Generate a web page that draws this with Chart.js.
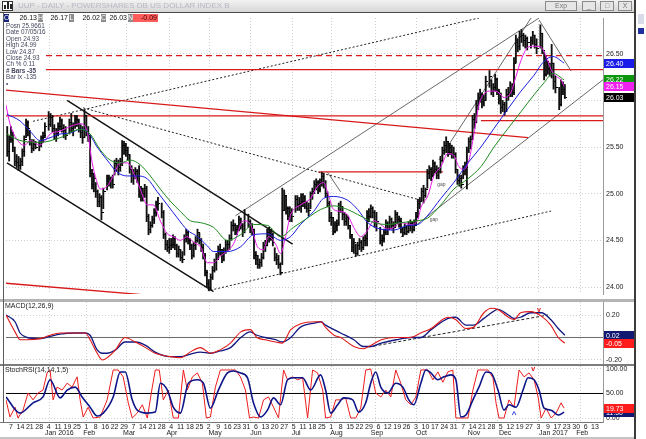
<!DOCTYPE html>
<html><head><meta charset="utf-8">
<script src="https://cdn.jsdelivr.net/npm/chart.js@4.4.1/dist/chart.umd.min.js"></script>
<style>
*{box-sizing:border-box}
html,body{margin:0;padding:0;background:#fff;overflow:hidden}
#wrap{position:relative;width:646px;height:439px;background:#fff;font-family:"Liberation Sans",Arial,sans-serif;overflow:hidden}
canvas{position:absolute;left:0}
#title{position:absolute;left:0;top:0;width:636px;height:13px;background:linear-gradient(#f2f2f2,#d6d6d6);border-bottom:1px solid #4a4a4a}
#title .t{position:absolute;left:18px;top:1px;font-size:8px;color:#b6b8c4;white-space:nowrap}
#icon{position:absolute;left:2px;top:1px;width:11px;height:10px;background:#fff;border:1px solid #333}
#icon i{position:absolute;bottom:1px;width:2px;background:#222}
.btn{position:absolute;top:1px;height:10px;border:1px solid #8a8a8a;background:#e6e6e6;font-size:7px;text-align:center;line-height:8px;color:#777}
.hl{position:absolute;top:14px;height:8px;font-size:7px;line-height:8px;color:#fff;text-align:center;background:#8c8c8c}
.hv{position:absolute;top:14px;height:8px;font-size:7px;line-height:8px;color:#111;text-align:right;background:#fff;padding-right:1px}
#info{position:absolute;left:4px;top:22px;width:42px;height:67px;background:#fff;font-size:6.3px;line-height:6.4px;color:#44465e;padding:1px 0 0 2px;white-space:nowrap}
.sep{position:absolute;left:0;width:636px}
#rside{position:absolute;left:634px;top:0;width:12px;height:439px;background:#fff;border-left:2px solid #3c3c3c}
#rside div{position:absolute;left:2px;width:6px}
</style></head><body>
<div id="wrap">
 <canvas id="cp" width="636" height="286" style="top:13px;width:636px;height:286px"></canvas>
 <canvas id="cm" width="636" height="62" style="top:302px;width:636px;height:62px"></canvas>
 <canvas id="cs" width="636" height="73" style="top:366px;width:636px;height:73px"></canvas>
 <div class="sep" style="top:299px;height:3px;background:#b4b4b4"></div>
 <div class="sep" style="top:364px;height:2px;background:#7c7c7c"></div>
 <div class="sep" style="top:422px;height:1px;background:#777;width:603px"></div>
 <div class="sep" style="top:437px;height:2px;background:#c4c4c4"></div>
 <div style="position:absolute;left:3px;top:13px;width:1px;height:409px;background:#5a5a5a"></div>
 <div id="title">
  <div id="icon"><i style="left:1px;height:4px"></i><i style="left:4px;height:7px"></i><i style="left:7px;height:5px"></i></div>
  <span class="t">UUP - DAILY - POWERSHARES DB US DOLLAR INDEX B</span>
  <div class="btn" style="left:545px;width:32px">Exp</div>
  <div class="btn" style="left:582px;width:14px">_</div>
  <div class="btn" style="left:600px;width:14px">&#9633;</div>
  <div class="btn" style="left:618px;width:14px">X</div>
 </div>
 <div class="hl" style="left:4px;width:5px;background:#14237a">O</div>
 <div class="hv" style="left:9px;width:29px">26.13</div>
 <div class="hl" style="left:38px;width:5px">H</div>
 <div class="hv" style="left:43px;width:26px">26.17</div>
 <div class="hl" style="left:69px;width:5px">L</div>
 <div class="hv" style="left:74px;width:27px">26.02</div>
 <div class="hl" style="left:101px;width:5px">C</div>
 <div class="hv" style="left:106px;width:22px">26.03</div>
 <div class="hl" style="left:128px;width:5px">N</div>
 <div class="hv" style="left:133px;width:25px;background:#ff5c5c;color:#3a0000">-0.09</div>
 <div id="info">Posn 25.9661<br>Date 07/05/16<br>Open 24.93<br>High 24.99<br>Low 24.87<br>Close 24.93<br>Ch % 0.11<br><b># Bars -35</b><br>Bar ix -135<br>&#8226;</div>
 <div id="rside"><div style="top:14px;height:10px;background:#d8dce8"></div><div style="top:28px;height:6px;background:#2030a0"></div></div>
</div>
<script>
// ---------- x axis (weeks from Mon 7 Dec 2015) ----------
const weekLabels = ['7','14','21','28','4','11','19','25','1','8','16','22','29','7','14','21','28','4','11','18','25','2','9','16','23','31','6','13','20','27','5','11','18','25','1','8','15','22','29','6','12','19','26','3','10','17','24','31','7','14','21','28','5','12','19','27','3','9','17','23','30','6','13'];
const monthNames = ['Jan 2016','Feb','Mar','Apr','May','Jun','Jul','Aug','Sep','Oct','Nov','Dec','Jan 2017','Feb'];
const monthLabelPos = [3.6,7.66,11.9,16.5,20.96,25.4,29.8,33.9,38.2,43.0,48.5,51.8,56.06,60.0];
const monthGridPos = [4.0,8.0,12.2,16.8,21.0,25.4,29.8,34.0,38.6,43.0,47.2,51.6,56.0,60.4];
const holidays = ['2015-12-25','2016-01-01','2016-01-18','2016-02-15','2016-03-25','2016-05-30','2016-07-04','2016-09-05','2016-11-24','2016-12-26','2017-01-02','2017-01-16'];
const firstDay = '2015-12-03', lastDay = '2017-01-20';

// ---------- daily prices (one line per week) ----------
const highs = [
25.72,25.62,
25.72,25.66,25.50,25.42,25.40,
25.38,25.48,25.62,25.80,25.78,
25.68,25.58,25.58,25.56,
25.56,25.62,25.66,25.76,
25.88,25.86,25.84,25.74,25.70,
25.76,25.82,25.80,25.74,25.72,
25.80,25.86,25.76,25.84,
25.84,25.80,25.74,25.72,25.90,
25.84,25.72,25.62,25.26,25.22,
25.12,25.04,25.00,24.98,25.06,
25.20,25.20,25.18,25.20,
25.36,25.38,25.36,25.38,25.57,
25.56,25.54,25.50,25.42,25.30,
25.26,25.28,25.26,25.30,25.08,
25.06,25.10,25.08,24.78,24.70,
24.76,24.84,24.92,24.96,
24.90,24.82,24.58,24.50,24.52,
24.52,24.56,24.54,24.46,24.44,
24.40,24.38,24.56,24.62,24.60,
24.52,24.46,24.48,24.54,24.62,
24.58,24.52,24.46,24.36,24.18,
24.08,24.14,24.22,24.30,24.36,
24.44,24.46,24.40,24.42,24.50,
24.50,24.56,24.70,24.72,24.68,
24.66,24.76,24.74,24.68,24.83,
24.78,24.72,24.68,24.62,
24.38,24.34,24.30,24.36,24.48,
24.50,24.62,24.64,24.62,24.58,
24.42,24.36,24.34,24.26,25.06,
25.04,24.98,24.86,24.86,24.84,
24.98,24.98,24.96,25.00,
25.00,24.98,24.92,24.90,25.02,
25.06,25.14,25.16,25.14,25.16,
25.23,25.22,25.14,25.02,24.92,
24.80,24.74,24.70,24.72,24.90,
24.92,24.86,24.80,24.78,24.76,
24.66,24.56,24.52,24.46,24.48,
24.52,24.50,24.54,24.56,24.82,
24.84,24.88,24.86,24.82,24.80,
24.64,24.56,24.62,24.72,
24.70,24.76,24.74,24.70,24.82,
24.80,24.76,24.74,24.64,24.68,
24.66,24.70,24.72,24.70,24.72,
24.80,24.94,24.96,25.06,25.09,
25.06,25.26,25.30,25.28,25.36,
25.34,25.30,25.28,25.40,25.50,
25.56,25.61,25.56,25.54,25.52,
25.50,25.44,25.26,25.20,25.20,
25.30,25.34,25.50,25.60,25.62,
25.84,25.86,26.00,26.08,26.12,
26.08,26.06,26.26,26.32,
26.22,26.18,26.28,26.24,26.12,
26.08,26.00,25.98,26.12,26.14,
26.20,26.18,26.46,26.70,26.66,
26.74,26.76,26.72,26.70,26.68,
26.68,26.74,26.70,26.66,
26.81,26.72,26.52,26.48,
26.42,26.40,26.60,26.40,26.26,
26.14,26.22,26.20,26.17];
const lows = [
25.40,25.35,
25.55,25.45,25.30,25.28,25.25,
25.26,25.30,25.40,25.60,25.62,
25.52,25.44,25.46,25.48,
25.46,25.50,25.55,25.60,
25.68,25.72,25.66,25.58,25.56,
25.62,25.68,25.66,25.60,25.58,
25.64,25.66,25.62,25.70,
25.72,25.66,25.60,25.54,25.60,
25.62,25.56,25.18,25.05,25.02,
24.96,24.86,24.86,24.72,24.84,
25.04,25.08,25.06,25.06,
25.20,25.24,25.20,25.24,25.30,
25.42,25.40,25.36,25.22,25.12,
25.10,25.16,25.12,24.96,24.92,
24.92,24.96,24.70,24.56,24.58,
24.64,24.68,24.76,24.82,
24.74,24.52,24.40,24.38,24.36,
24.40,24.42,24.40,24.32,24.32,
24.28,24.26,24.34,24.48,24.46,
24.40,24.30,24.32,24.40,24.48,
24.46,24.38,24.30,24.12,24.00,
23.96,23.97,24.08,24.16,24.18,
24.30,24.34,24.26,24.28,24.36,
24.38,24.40,24.50,24.60,24.56,
24.56,24.60,24.62,24.54,24.58,
24.64,24.58,24.56,24.30,
24.24,24.20,24.20,24.22,24.30,
24.38,24.44,24.48,24.50,24.44,
24.28,24.24,24.20,24.13,24.24,
24.82,24.78,24.72,24.70,24.70,
24.80,24.82,24.82,24.80,
24.86,24.84,24.80,24.76,24.84,
24.94,25.00,25.04,25.00,25.02,
25.08,25.06,24.96,24.86,24.70,
24.66,24.56,24.58,24.60,24.66,
24.80,24.72,24.66,24.66,24.62,
24.52,24.38,24.36,24.33,24.34,
24.40,24.38,24.40,24.44,24.44,
24.70,24.74,24.74,24.64,24.60,
24.46,24.44,24.48,24.56,
24.56,24.62,24.62,24.58,24.64,
24.68,24.64,24.58,24.54,24.56,
24.56,24.58,24.60,24.58,24.60,
24.66,24.74,24.84,24.92,24.90,
24.96,25.06,25.16,25.14,25.18,
25.22,25.16,25.16,25.22,25.34,
25.42,25.44,25.40,25.42,25.38,
25.38,25.22,25.10,25.08,25.06,
25.16,25.20,25.05,25.44,25.48,
25.58,25.70,25.76,25.90,25.98,
25.92,25.94,26.00,26.14,
26.06,26.04,26.10,26.06,25.96,
25.86,25.88,25.84,25.88,26.00,
26.04,26.04,26.06,26.40,26.52,
26.54,26.62,26.58,26.56,26.54,
26.56,26.60,26.56,26.50,
26.56,26.50,26.22,26.26,
26.28,26.26,26.24,26.12,26.08,
25.90,25.94,26.06,26.02];
const closes = [
25.45,25.58,
25.66,25.50,25.35,25.33,25.30,
25.34,25.45,25.58,25.76,25.70,
25.55,25.48,25.53,25.50,
25.52,25.60,25.62,25.72,
25.74,25.82,25.70,25.62,25.64,
25.72,25.78,25.70,25.68,25.62,
25.76,25.70,25.74,25.80,
25.78,25.70,25.66,25.60,25.84,
25.66,25.62,25.22,25.10,25.16,
25.02,24.92,24.96,24.80,25.02,
25.16,25.12,25.14,25.10,
25.32,25.30,25.28,25.32,25.52,
25.46,25.50,25.42,25.26,25.20,
25.22,25.24,25.18,25.06,24.98,
25.00,25.06,24.76,24.62,24.66,
24.72,24.80,24.88,24.90,
24.80,24.56,24.46,24.42,24.44,
24.46,24.52,24.44,24.36,24.40,
24.32,24.30,24.52,24.58,24.50,
24.44,24.34,24.44,24.50,24.58,
24.50,24.42,24.34,24.16,24.04,
24.00,24.10,24.18,24.26,24.30,
24.40,24.40,24.30,24.38,24.46,
24.46,24.52,24.66,24.66,24.62,
24.62,24.72,24.66,24.58,24.78,
24.70,24.64,24.62,24.34,
24.30,24.24,24.26,24.32,24.44,
24.44,24.58,24.52,24.56,24.48,
24.32,24.30,24.24,24.16,24.82,
24.98,24.84,24.76,24.80,24.76,
24.94,24.88,24.90,24.92,
24.96,24.86,24.84,24.82,25.00,
25.02,25.10,25.12,25.04,25.12,
25.18,25.10,25.00,24.90,24.74,
24.74,24.60,24.66,24.68,24.86,
24.86,24.78,24.70,24.74,24.66,
24.56,24.42,24.48,24.36,24.44,
24.48,24.42,24.50,24.52,24.76,
24.76,24.84,24.80,24.68,24.70,
24.50,24.52,24.58,24.68,
24.62,24.72,24.66,24.64,24.78,
24.72,24.70,24.62,24.58,24.64,
24.60,24.66,24.68,24.62,24.66,
24.76,24.90,24.92,25.02,24.98,
25.04,25.22,25.26,25.20,25.32,
25.26,25.20,25.24,25.36,25.46,
25.52,25.56,25.44,25.50,25.42,
25.42,25.26,25.14,25.16,25.10,
25.26,25.28,25.46,25.56,25.58,
25.80,25.76,25.94,26.02,26.06,
25.98,26.00,26.20,26.26,
26.10,26.14,26.22,26.10,26.00,
25.92,25.96,25.88,26.06,26.08,
26.12,26.08,26.40,26.62,26.58,
26.68,26.70,26.64,26.66,26.62,
26.64,26.70,26.60,26.56,
26.72,26.54,26.28,26.42,
26.34,26.32,26.40,26.20,26.14,
25.96,26.16,26.12,26.03];

// ---------- moving averages ----------
const maFastW = [-0.53,-0.11,0.96,1.49,2.02,3.09,3.62,4.15,5.21,6.28,7.34,8.09,8.62,9.15,9.47,10.21,10.85,11.60,12.34,12.98,13.72,14.47,15.11,15.85,16.60,17.23,17.98,18.72,19.36,20.11,20.85,21.49,22.23,23.62,24.68,25.43,26.17,26.81,27.34,28.09,28.62,29.15,29.68,30.74,31.81,32.55,33.19,33.72,34.26,35.00,35.74,36.38,37.13,37.87,38.51,39.26,40.00,40.64,41.38,42.45,43.19,43.51,44.26,44.89,45.64,46.38,47.02,47.55,48.09,48.62,49.15,49.68,50.21,50.96,51.70,52.34,53.09,53.62,54.15,54.89,55.53,56.28,56.81,57.34,57.87,58.40,58.72];
const maFastV = [25.95,25.75,25.54,25.52,25.57,25.52,25.57,25.64,25.67,25.72,25.75,25.67,25.33,25.12,25.05,25.08,25.19,25.33,25.33,25.23,25.05,24.88,24.88,24.71,24.57,24.54,24.50,24.54,24.48,24.43,24.26,24.26,24.33,24.46,24.71,24.67,24.43,24.40,24.54,24.46,24.36,24.54,24.77,24.88,24.95,25.08,25.12,24.98,24.83,24.81,24.77,24.64,24.54,24.61,24.71,24.67,24.62,24.64,24.69,24.67,24.72,24.85,24.98,25.19,25.29,25.43,25.41,25.29,25.26,25.36,25.64,25.95,26.07,26.10,26.09,26.03,26.09,26.26,26.43,26.57,26.58,26.57,26.47,26.33,26.26,26.22,26.15];
const maMidW = [-0.43,0.96,2.02,3.09,4.15,5.21,6.28,7.34,8.09,9.15,10.21,11.28,12.34,13.40,14.47,15.53,16.60,17.66,18.72,19.79,20.85,21.49,22.98,24.36,25.74,27.23,28.62,29.68,30.74,32.13,33.19,34.26,35.74,36.81,37.87,39.26,40.64,42.13,43.19,44.26,45.64,47.02,48.51,49.89,51.28,52.77,54.15,55.53,56.60,57.55,58.72];
const maMidV = [25.85,25.78,25.67,25.57,25.60,25.64,25.65,25.69,25.67,25.50,25.36,25.23,25.19,25.19,25.16,25.02,24.88,24.74,24.61,24.54,24.44,24.38,24.38,24.43,24.56,24.57,24.50,24.54,24.67,24.81,24.95,24.97,24.93,24.83,24.69,24.62,24.61,24.66,24.67,24.77,24.95,25.12,25.33,25.50,25.70,25.91,26.10,26.27,26.42,26.47,26.40];
const maSlowW = [-0.43,0.96,3.09,5.21,7.34,8.40,9.47,10.53,11.60,12.66,13.72,14.79,15.85,16.91,17.98,19.04,20.11,21.49,22.98,24.36,25.74,27.23,28.62,30.00,31.49,32.87,34.26,35.74,37.13,38.51,40.00,41.38,43.19,44.26,45.64,47.02,48.51,49.89,51.28,52.77,54.15,55.53,56.60,57.55,58.72];
const maSlowV = [25.64,25.57,25.55,25.60,25.69,25.64,25.47,25.36,25.33,25.36,25.31,25.19,25.05,24.92,24.81,24.71,24.69,24.64,24.50,24.56,24.67,24.66,24.54,24.64,24.74,24.83,24.87,24.83,24.76,24.69,24.67,24.69,24.71,24.74,24.88,25.05,25.16,25.29,25.50,25.70,25.88,26.06,26.19,26.29,26.22];

// ---------- drawn lines on the price panel (week, price) ----------
const redDashed = [[-0.53,26.48],[62.85,26.48]];
const redSolid1 = [[-0.53,26.33],[62.85,26.33]];
const redSlope1 = [[-0.53,26.11],[54.9,25.60]];
const redSolid2 = [[-0.53,25.833],[62.85,25.833]];
const redSolid3 = [[49.9,25.783],[62.85,25.783]];
const redSolid4 = [[32.66,25.233],[45.85,25.233]];
const redSlope2 = [[-0.53,24.04],[14.26,23.915]];
const chanLow = [[-0.43,25.33],[21.5,23.95]];
const chanHigh = [[5.96,26.00],[29.9,24.46]];
const dotDown = [[7.66,25.92],[43.51,24.93]];
const dotUp = [[2.34,25.776],[49.68,26.883]];
const dotSupport = [[21.17,23.966],[57.34,24.814]];
const thinUp1 = [[23.83,24.763],[56.06,26.883]];
const thinUp2 = [[41.38,24.535],[62.98,26.231]];
const thinUp3 = [[45.43,25.362],[55.21,26.883]];
const thinDown1 = [[56.06,26.862],[59.47,26.314]];
const thinDown2 = [[33.6,25.23],[35.0,25.02]];
const gapMarks = [[45.7,25.10],[44.9,24.72]];

const priceTicks = [24.0,24.5,25.0,25.5,26.0,26.5];
const priceLast = [26.40,26.22,26.15,26.03];

// ---------- MACD ----------
const macdW = [-0.53,0.43,0.96,1.7,3.1,4.15,5.2,6.8,7.9,8.4,9.15,9.7,10.2,11.1,12.1,13.2,14.3,15.3,16.9,18.0,19.0,20.1,21.2,22.2,23.3,24.4,25.4,26.1,27.0,28.1,28.8,29.7,30.7,32.3,32.9,33.4,34.3,35.0,36.4,37.4,38.2,39.3,40.9,42.4,43.5,44.6,46.4,47.2,48.3,49.1,50.2,51.0,51.7,52.8,53.4,54.1,55.2,56.3,57.3,58.1,58.8];
const macdRed = [0.20,0.05,-0.02,-0.02,-0.01,0.02,0.04,0.04,0.04,-0.02,-0.14,-0.20,-0.18,-0.11,0.00,-0.04,-0.09,-0.14,-0.17,-0.18,-0.13,-0.09,-0.14,-0.11,-0.05,0.05,0.07,0.00,-0.02,-0.04,-0.05,0.07,0.12,0.14,0.14,0.09,0.02,0.00,-0.08,-0.10,-0.07,-0.02,0.00,0.00,0.04,0.08,0.18,0.16,0.08,0.09,0.22,0.26,0.25,0.18,0.16,0.22,0.23,0.19,0.11,0.00,-0.05];
const macdBlue = [0.20,0.14,0.04,0.00,-0.01,0.01,0.03,0.04,0.04,0.02,-0.11,-0.14,-0.14,-0.11,-0.04,-0.04,-0.07,-0.13,-0.17,-0.17,-0.15,-0.13,-0.14,-0.12,-0.09,0.00,0.05,0.02,0.00,-0.02,-0.04,0.00,0.09,0.13,0.14,0.11,0.07,0.04,-0.02,-0.08,-0.08,-0.05,-0.02,0.00,0.00,0.07,0.17,0.18,0.11,0.11,0.17,0.22,0.25,0.20,0.17,0.18,0.22,0.22,0.16,0.08,0.02];
const macdTrend = [[37.98,-0.084],[57.02,0.20]];
const macdTicks = [-0.2,0.2];
const macdLast = [0.02,-0.05];
const macdMark = [56.06,0.244];

// ---------- Stochastic RSI ----------
const stSlowW = [-0.53,0.96,2.34,3.40,4.15,5.21,5.96,6.81,7.55,8.40,9.15,9.79,10.85,11.60,12.13,12.87,13.40,14.47,15.32,15.85,16.60,17.23,17.98,18.83,19.79,20.43,21.17,22.02,22.98,23.62,24.36,25.11,25.74,26.49,27.23,27.87,28.62,29.36,30.00,30.96,31.81,32.87,33.40,33.94,34.68,35.32,36.28,36.91,37.66,38.19,38.72,39.26,40.00,40.85,41.60,42.23,42.77,43.51,44.04,44.57,45.32,45.96,46.70,47.23,47.77,48.30,49.04,49.68,50.43,50.96,51.70,52.34,52.87,53.62,54.36,54.89,55.53,56.06,56.60,57.34,58.09,58.72];
const stSlowV = [43,10,31,43,78,41,57,63,43,22,4,10,43,94,94,37,16,10,12,71,57,22,10,71,78,71,20,57,92,96,92,82,31,2,16,41,27,78,82,82,57,88,57,10,27,41,37,12,31,71,94,63,51,71,63,37,27,71,98,92,78,84,88,78,2,6,37,63,94,92,57,16,27,22,57,82,78,57,20,16,6,12];
const stFastW = [-0.53,-0.11,0.43,0.74,1.28,1.81,2.34,2.87,3.40,3.83,4.15,4.47,4.89,5.43,5.96,6.49,7.02,7.34,7.66,8.19,8.72,9.47,10.21,10.85,11.38,11.91,12.45,12.87,13.40,13.94,14.47,15.00,15.32,15.74,16.17,16.70,17.23,17.77,18.30,18.72,19.26,19.79,20.32,20.74,21.17,21.70,22.23,22.77,23.30,23.83,24.36,24.89,25.32,25.74,26.28,26.81,27.34,27.87,28.40,28.94,29.36,29.89,30.43,30.96,31.49,32.02,32.55,33.09,33.40,33.94,34.47,35.00,35.53,36.06,36.60,37.13,37.66,38.19,38.72,39.26,39.79,40.32,40.85,41.38,41.91,42.45,42.98,43.51,44.26,44.79,45.32,45.85,46.38,46.91,47.23,47.77,48.51,49.04,49.57,50.11,50.64,51.17,51.49,51.81,52.34,52.87,53.40,53.94,54.47,55.00,55.53,55.96,56.28,56.81,57.34,57.87,58.40,58.72];
const stFastV = [37,2,22,0,16,51,37,51,57,92,98,37,63,57,71,63,84,37,2,22,0,2,37,98,98,84,31,0,10,27,0,63,98,98,37,57,0,0,98,57,84,92,71,0,2,63,98,98,98,98,84,57,0,2,0,37,43,22,0,98,78,84,78,82,0,98,92,57,0,2,37,37,41,0,0,20,98,100,51,43,57,43,98,71,37,27,43,98,98,78,94,73,94,98,0,0,0,57,98,98,98,82,31,0,0,37,22,98,84,92,78,43,0,20,0,10,31,20];
const stTicks = [0,50,100];
const stLast = [11.5,19.73];
const stMarkDown = [55.43,100];
const stMarkUp = [53.40,6];

// ---------- build ----------
const XMIN = -0.53, XMAX = 62.85;
const FONT = '"Liberation Sans", Arial, sans-serif';
const hol = new Set(holidays);
const mon0 = Date.UTC(2015,11,7);
const dayX = [];
for (let t = Date.parse(firstDay+'T00:00:00Z'); t <= Date.parse(lastDay+'T00:00:00Z'); t += 864e5) {
  const d = new Date(t), wd = d.getUTCDay();
  if (wd === 0 || wd === 6) continue;
  if (hol.has(d.toISOString().slice(0,10))) continue;
  const days = Math.round((t - mon0)/864e5);
  dayX.push(Math.floor(days/7) + (((days%7)+7)%7)*0.2);
}
const N = Math.min(dayX.length, highs.length, lows.length, closes.length);
const xy = (ws, vs) => ws.map((w,i)=>({x:w, y:vs[i]}));
const seg = (p) => p.map(q=>({x:q[0], y:q[1]}));

const tickImg = document.createElement('canvas');
tickImg.width = 5; tickImg.height = 1;
(function(){const c=tickImg.getContext('2d'); c.fillStyle='#000'; c.fillRect(3,0,2,1);})();

function lineDs(data, color, width, dash, order){
  return {type:'line', data, borderColor:color, borderWidth:width, borderDash:dash||[], pointRadius:0, tension:0, fill:false, order:order??5};
}
function maDs(ws, vs, color){
  return {type:'line', data:xy(ws,vs), borderColor:color, borderWidth:1, pointRadius:0, tension:0.4, cubicInterpolationMode:'monotone', fill:false, order:0};
}
function xScale(){
  return {type:'linear', min:XMIN, max:XMAX, display:false, offset:false, grid:{display:false}};
}
function yScale(min, max, ticks){
  return {position:'right', min, max,
    afterFit(s){ s.width = 33; },
    afterBuildTicks(s){ s.ticks = ticks.map(v=>({value:v})); },
    ticks:{display:false},
    grid:{color:'#cfcfcf', lineWidth:1, drawTicks:false},
    border:{display:true, color:'#9a9a9a', dash:[1,2]}};
}
function monthGrid(chart){
  const {ctx, chartArea:a, scales:{x}} = chart;
  ctx.save(); ctx.strokeStyle='#cfcfcf'; ctx.lineWidth=1; ctx.setLineDash([1,2]);
  monthGridPos.forEach(p=>{const px=Math.round(x.getPixelForValue(p))+0.5; ctx.beginPath(); ctx.moveTo(px,a.top); ctx.lineTo(px,a.bottom); ctx.stroke();});
  ctx.restore();
}
function rightLabels(chart, vals, dec){
  const {ctx, chartArea:a, scales:{y}} = chart;
  ctx.save(); ctx.font='7px '+FONT; ctx.fillStyle='#222'; ctx.textAlign='left'; ctx.textBaseline='middle';
  vals.forEach(v=>ctx.fillText(v.toFixed(dec), a.right+3, y.getPixelForValue(v)));
  ctx.restore();
}
function boxes(chart, vals, colors){
  const {ctx, chartArea:a, scales:{y}} = chart;
  ctx.save(); ctx.font='7px '+FONT; ctx.textAlign='left'; ctx.textBaseline='middle';
  vals.forEach((v,i)=>{const py=y.getPixelForValue(v); ctx.fillStyle=colors[i]; ctx.fillRect(a.right+1, Math.round(py-4.5), 31, 9); ctx.fillStyle='#fff'; ctx.fillText(v.toFixed(2), a.right+3, py+0.5);});
  ctx.restore();
}
function markText(chart, p, txt, color, size){
  const {ctx, scales:{x,y}} = chart;
  ctx.save(); ctx.font='bold '+size+'px '+FONT; ctx.fillStyle=color; ctx.textAlign='center'; ctx.textBaseline='middle';
  ctx.fillText(txt, x.getPixelForValue(p[0]), y.getPixelForValue(p[1])); ctx.restore();
}
function panelTitle(chart, txt){
  const {ctx, chartArea:a} = chart;
  ctx.save(); ctx.font='7px '+FONT; ctx.fillStyle='#222'; ctx.textAlign='left'; ctx.textBaseline='top';
  ctx.fillText(txt, a.left-1, a.top+1); ctx.restore();
}
Chart.defaults.animation = false;
Chart.defaults.font.family = FONT;

// price chart
new Chart(document.getElementById('cp'), {
  type:'bar',
  data:{datasets:[
    {type:'bar', data:dayX.slice(0,N).map((x,i)=>({x, y:[lows[i],highs[i]]})), backgroundColor:'#111', borderWidth:0, barThickness:1.2, order:2},
    {type:'scatter', data:dayX.slice(0,N).map((x,i)=>({x, y:closes[i]})), pointStyle:tickImg, pointRadius:2, order:1},
    maDs(maSlowW, maSlowV, '#1e8a1e'),
    maDs(maMidW, maMidV, '#1c1ce0'),
    maDs(maFastW, maFastV, '#e81ce8'),
    lineDs(seg(redDashed), '#d81a1a', 1.2, [6,4]),
    lineDs(seg(redSolid1), '#d81a1a', 1.2),
    lineDs(seg(redSlope1), '#d81a1a', 1.3),
    lineDs(seg(redSolid2), '#d81a1a', 1.2),
    lineDs(seg(redSolid3), '#d81a1a', 1.2),
    lineDs(seg(redSolid4), '#d81a1a', 1.2),
    lineDs(seg(redSlope2), '#d81a1a', 1.3),
    lineDs(seg(chanLow), '#111', 1.4),
    lineDs(seg(chanHigh), '#111', 1.4),
    lineDs(seg(dotDown), '#222', 1, [2,2]),
    lineDs(seg(dotUp), '#222', 1, [2,2]),
    lineDs(seg(dotSupport), '#222', 1, [2,2]),
    lineDs(seg(thinUp1), '#444', 0.8),
    lineDs(seg(thinUp2), '#444', 0.8),
    lineDs(seg(thinUp3), '#444', 0.8),
    lineDs(seg(thinDown1), '#444', 0.8),
    lineDs(seg(thinDown2), '#444', 0.8)
  ]},
  options:{responsive:false, devicePixelRatio:1, layout:{padding:{left:6,right:0,top:0,bottom:0}},
    plugins:{legend:{display:false}, tooltip:{enabled:false}},
    scales:{x:xScale(), y:yScale(23.925, 26.883, priceTicks)}},
  plugins:[{id:'p1', beforeDatasetsDraw:monthGrid, afterDraw(c){
    rightLabels(c, priceTicks, 2);
    boxes(c, priceLast, ['#1c1ce8','#0c960c','#f020f0','#000']);
    const {ctx, scales:{x,y}} = c;
    ctx.save(); ctx.font='5px '+FONT; ctx.fillStyle='#555'; ctx.textAlign='center'; ctx.textBaseline='middle';
    gapMarks.forEach(g=>ctx.fillText('gap', x.getPixelForValue(g[0]), y.getPixelForValue(g[1])));
    ctx.restore();
  }}]
});

// MACD chart
new Chart(document.getElementById('cm'), {
  type:'line',
  data:{datasets:[
    lineDs(seg([[XMIN,0],[XMAX,0]]), '#6a6a6a', 1, [], 6),
    lineDs(seg(macdTrend), '#222', 1, [3,2], 4),
    {type:'line', data:xy(macdW, macdBlue), borderColor:'#101880', borderWidth:1.3, pointRadius:0, tension:0.4, cubicInterpolationMode:'monotone', order:1},
    {type:'line', data:xy(macdW, macdRed), borderColor:'#e01818', borderWidth:1.1, pointRadius:0, tension:0.4, cubicInterpolationMode:'monotone', order:0}
  ]},
  options:{responsive:false, devicePixelRatio:1, layout:{padding:{left:6,right:0,top:0,bottom:0}},
    plugins:{legend:{display:false}, tooltip:{enabled:false}},
    scales:{x:xScale(), y:yScale(-0.2356, 0.3156, macdTicks)}},
  plugins:[{id:'p2', beforeDatasetsDraw:monthGrid, afterDraw(c){
    rightLabels(c, macdTicks, 2);
    boxes(c, macdLast, ['#101870','#ff1c1c']);
    panelTitle(c, 'MACD(12,26,9)');
    markText(c, macdMark, 'v', '#e01818', 7);
  }}]
});

// Stochastic chart + date axis
new Chart(document.getElementById('cs'), {
  type:'line',
  data:{datasets:[
    lineDs(seg([[XMIN,50],[XMAX,50]]), '#000', 1, [], 6),
    {type:'line', data:xy(stFastW, stFastV), borderColor:'#ee1c1c', borderWidth:1, pointRadius:0, tension:0, order:1},
    {type:'line', data:xy(stSlowW, stSlowV), borderColor:'#0c1488', borderWidth:1.6, pointRadius:0, tension:0.4, cubicInterpolationMode:'monotone', order:0}
  ]},
  options:{responsive:false, devicePixelRatio:1, layout:{padding:{left:6,right:0,top:0,bottom:17}},
    plugins:{legend:{display:false}, tooltip:{enabled:false}},
    scales:{x:xScale(), y:yScale(-8.16, 106.1, stTicks)}},
  plugins:[{id:'p3', beforeDatasetsDraw:monthGrid, afterDraw(c){
    rightLabels(c, stTicks, 2);
    boxes(c, stLast, ['#101870','#ff1c1c']);
    panelTitle(c, 'StochRSI(14,14,1,5)');
    markText(c, stMarkDown, 'v', '#e01818', 7);
    markText(c, stMarkUp, '^', '#1c30e0', 8);
    const {ctx, chartArea:a, scales:{x}} = c;
    ctx.save(); ctx.font='7px '+FONT; ctx.fillStyle='#222'; ctx.textBaseline='middle';
    ctx.textAlign='center';
    weekLabels.forEach((l,i)=>ctx.fillText(l, x.getPixelForValue(i), a.bottom+5));
    ctx.textAlign='left';
    monthNames.forEach((m,i)=>ctx.fillText(m, x.getPixelForValue(monthLabelPos[i]), a.bottom+11));
    ctx.restore();
  }}]
});
</script>
</body></html>
